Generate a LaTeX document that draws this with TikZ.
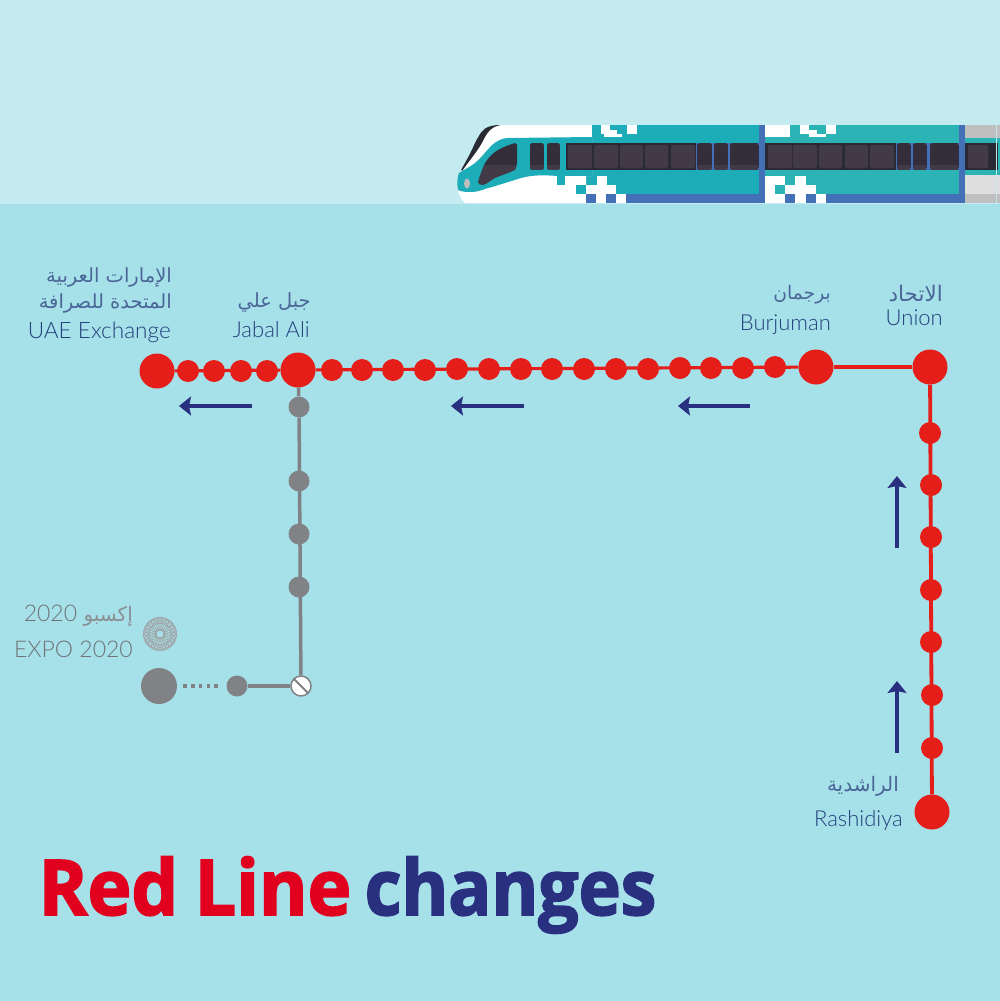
\documentclass[tikz,border=0pt]{standalone}
\usepackage{fontspec}
\setmainfont{Lato Light}
\newfontfamily\arabicfont[Script=Arabic]{DejaVu Sans}
\newfontfamily\titlefont[FakeBold=2.2,FakeStretch=0.94,WordSpace=0.85]{Open Sans Bold}
\TeXXeTstate=1
\usetikzlibrary{arrows.meta}
\definecolor{skyc}{HTML}{C3EBF0}
\definecolor{bgc}{HTML}{A6E1EA}
\definecolor{redc}{HTML}{E61E19}
\definecolor{grayc}{HTML}{808285}
\definecolor{graytxt}{HTML}{6F7376}
\definecolor{grayar}{HTML}{8A8F92}
\definecolor{navy}{HTML}{2A3080}
\definecolor{titlered}{HTML}{E2001F}
\definecolor{labc}{HTML}{233F7C}
\definecolor{labar}{HTML}{4A6697}
\definecolor{tealA}{HTML}{1CADB8}
\definecolor{tealB}{HTML}{2BB3B6}
\definecolor{blueb}{HTML}{4470B8}
\definecolor{bandc}{HTML}{2A2A35}
\definecolor{panec}{HTML}{433A47}
\definecolor{doorc}{HTML}{332E3A}
\tikzset{
  bigstop/.style={circle,fill=redc,draw=none,minimum size=35pt,inner sep=0pt},
  stopr/.style={circle,fill=redc,draw=none,minimum size=22pt,inner sep=0pt},
  stopg/.style={circle,fill=grayc,draw=none,minimum size=21pt,inner sep=0pt},
  biggray/.style={circle,fill=grayc,draw=none,minimum size=36pt,inner sep=0pt},
  xchg/.style={circle,fill=white,draw=grayc,line width=1.5pt,minimum size=20pt,inner sep=0pt},
  redline/.style={draw=redc,line width=3.2pt},
  grayline/.style={draw=grayc,line width=3.5pt},
  dirarrow/.style={draw=navy,line width=3.6pt,-{Stealth[length=12pt,width=19pt,inset=2pt]}},
  lab/.style={text=labc,anchor=base east,font=\fontsize{22}{24}\selectfont,inner sep=0pt},
  alab/.style={text=labar,anchor=base east,font=\arabicfont\fontsize{19.5}{22}\selectfont,inner sep=0pt},
  glab/.style={lab,text=graytxt,font=\fontsize{23}{24}\selectfont},
  galab/.style={alab,text=grayar,font=\arabicfont\fontsize{20}{24}\selectfont},
  title/.style={anchor=base west,inner sep=0pt,font=\titlefont\fontsize{77}{80}\selectfont},
  pane/.style={fill=panec,rounded corners=2pt},
}
\newcommand{\traindoor}[2]{%
  \begin{scope}
    \clip[rounded corners=2.5pt] (#1,143) rectangle (#2,170);
    \fill[doorc] (#1,143) rectangle (#2,170);
    \fill[panec] (#1,165) rectangle (#2,170);
  \end{scope}}
\begin{document}
\begin{tikzpicture}[x=1pt,y=-1pt]
\useasboundingbox (0,0) rectangle (1000,1001);
\fill[bgc] (0,0) rectangle (1000,1001);
\fill[skyc] (0,0) rectangle (1000,204);
% --- train ---
\begin{scope}
\clip (0,0) rectangle (1000,203.5);
% car bodies
\fill[tealA] (586,125) rectangle (760,203);
\fill[tealB] (765,125) rectangle (960,203);
% dark roof edge
\fill[bandc] (461,170) .. controls (468,158) and (472,150) .. (475,143) .. controls (480,133) and (484,128) .. (488,127) .. controls (493,125) and (498,125) .. (503,125) -- (503,140) -- (470,172) -- cycle;
% white body
\fill[white] (463,170) .. controls (470,160) and (477,152) .. (482,143) .. controls (486,135) and (489,130) .. (493,128) .. controls (496,126) and (500,125) .. (503,125) -- (592,125) -- (592,137) -- (592,176) -- (586,176) -- (586,203) -- (465,203) .. controls (461,199) and (459,196) .. (458,190) -- cycle;
% nose teal
\fill[tealA] (459,173) .. controls (465,169) and (470,167) .. (475,163) .. controls (482,157) and (487,150) .. (492,145) .. controls (497,141) and (502,138) .. (508,138) -- (592,137) -- (592,176) -- (557,176) .. controls (545,175) and (535,175) .. (525,177) .. controls (517,179) and (512,181) .. (505,183) .. controls (498,185) and (493,187) .. (488,188) .. controls (482,190) and (477,192) .. (472,192) .. controls (467,192) and (462,192) .. (458,190) .. controls (457,184) and (457,178) .. (459,173) -- cycle;
% windscreen
\begin{scope}
\clip (478,182) .. controls (480,175) and (482,169) .. (485,163) .. controls (489,157) and (493,153) .. (498,150) .. controls (503,147) and (509,145) .. (515,143) -- (517,145) -- (517,163) .. controls (517,166) and (516,168) .. (515,170) .. controls (509,173) and (502,175) .. (495,178) .. controls (491,180) and (487,184) .. (483,185) .. controls (480,185) and (478,184) .. (478,182) -- cycle;
\fill[doorc] (475,140) rectangle (520,165);
\fill[panec] (475,165) rectangle (520,190);
\end{scope}
\fill[black!25] (467,183.5) ellipse [x radius=3,y radius=5];
% pixel blocks car 1
\fill[tealA] (592,125) rectangle (601,137);
\fill[white] (601,125) rectangle (610,134);
\fill[white] (604,134) rectangle (622,137);
\fill[white] (610,130) rectangle (617,134);
\fill[tealA] (617,125) rectangle (627,134);
\fill[white] (627,125) rectangle (637,134);
\fill[tealA] (557,176) rectangle (565,185);
\fill[white] (565,176) rectangle (586,185);
\fill[white] (597,176) rectangle (607,185);
\fill[tealA] (576,185) rectangle (586,194);
\fill[white] (586,185) rectangle (616,194);
\fill[white] (557,185) rectangle (576,194);
\fill[white] (557,194) rectangle (586,203);
\fill[blueb] (586,194) rectangle (596,203);
\fill[white] (596,194) rectangle (606,203);
\fill[blueb] (606,194) rectangle (616,203);
\fill[white] (616,194) rectangle (626,203);
\fill[blueb] (626,194) rectangle (765,203);
% windows car 1
\traindoor{530}{544}
\traindoor{547}{560}
\fill[bandc] (566,143) rectangle (696,170);
\foreach \a/\b in {568/592,594/618,620/643,645/668,671/695}{\fill[pane] (\a,145) rectangle (\b,168);}
\fill[blueb] (695.5,143) rectangle (760,170);
\traindoor{697}{712}
\traindoor{714}{728}
\traindoor{730}{759}
% separator
\fill[blueb] (759,125) rectangle (765,203);
% car 2 pixels
\fill[white] (765,125) rectangle (790,137);
\fill[tealB] (790,125) rectangle (800,134);
\fill[white] (800,125) rectangle (809,134);
\fill[white] (809,130) rectangle (817,134);
\fill[white] (809,134) rectangle (826,137);
\fill[tealB] (817,125) rectangle (826,134);
\fill[white] (826,125) rectangle (836,134);
\fill[white] (765,176) rectangle (785,185);
\fill[white] (795,176) rectangle (806,185);
\fill[white] (765,185) rectangle (775,194);
\fill[tealB] (775,185) rectangle (785,194);
\fill[white] (785,185) rectangle (816,194);
\fill[white] (765,194) rectangle (785,203);
\fill[blueb] (785,194) rectangle (795,203);
\fill[white] (795,194) rectangle (806,203);
\fill[blueb] (806,194) rectangle (816,203);
\fill[white] (816,194) rectangle (826,203);
\fill[blueb] (826,194) rectangle (965,203);
% windows car 2
\fill[bandc] (765,143) rectangle (896,170);
\foreach \a/\b in {768/792,793/817,819/842,845/868,870/894}{\fill[pane] (\a,145) rectangle (\b,168);}
\fill[blueb] (895.5,143) rectangle (960,170);
\traindoor{897}{911}
\traindoor{913}{927}
\traindoor{930}{959}
\fill[blueb] (959,125) rectangle (965,203);
% car 3
\fill[black!25] (965,125) rectangle (1000,138);
\fill[tealB] (965,138) rectangle (1000,175);
\fill[black!13] (965,175) rectangle (1000,194);
\fill[black!25] (965,194) rectangle (1000,203);
\fill[bandc] (965,143) rectangle (998,170);
\fill[pane] (968,145) rectangle (988,168);
\fill[white!70!tealB] (996,125) rectangle (997,203);
\end{scope}
% --- expo emblem ---
\foreach \t in {0,15,...,345}{
  \draw[grayc!75,line width=.4pt] (160,634) ++(\t:10) circle (6.5);
  \draw[grayc!75,line width=.4pt] (160,634) ++(\t+7.5:13.5) circle (3.5);
}
\fill[bgc] (160,634) circle (3.2);
% --- stops ---
\node[bigstop] (uae) at (157,371) {};
\node[stopr] (r1) at (188,371) {};
\node[stopr] (r2) at (214,371) {};
\node[stopr] (r3) at (241,371) {};
\node[stopr] (r4) at (267,371) {};
\node[bigstop] (jabal) at (298,370) {};
\node[stopr] (r5) at (332,370) {};
\node[stopr] (r6) at (362,370) {};
\node[stopr] (r7) at (393,370) {};
\node[stopr] (r8) at (425,370) {};
\node[stopr] (r9) at (457,369) {};
\node[stopr] (r10) at (489,369) {};
\node[stopr] (r11) at (521,369) {};
\node[stopr] (r12) at (552,369) {};
\node[stopr] (r13) at (584,369) {};
\node[stopr] (r14) at (616,369) {};
\node[stopr] (r15) at (648,369) {};
\node[stopr] (r16) at (680,368) {};
\node[stopr] (r17) at (711,368) {};
\node[stopr] (r18) at (743,368) {};
\node[stopr] (r19) at (775,367) {};
\node[bigstop] (burj) at (816,367) {};
\node[bigstop] (union) at (930,367) {};
\node[stopr] (s1) at (930,433) {};
\node[stopr] (s2) at (931,485) {};
\node[stopr] (s3) at (931,537) {};
\node[stopr] (s4) at (931,590) {};
\node[stopr] (s5) at (931,642) {};
\node[stopr] (s6) at (932,695) {};
\node[stopr] (s7) at (932,748) {};
\node[bigstop] (rash) at (932,812) {};
% gray branch
\node[stopg] (g1) at (299,407) {};
\node[stopg] (g2) at (299,481) {};
\node[stopg] (g3) at (299,534) {};
\node[stopg] (g4) at (299,587) {};
\node[xchg] (hx) at (301,686) {};
\node[stopg] (g5) at (237,686) {};
\node[biggray] (expo) at (159,686) {};
% --- connectors ---
\draw[redline] (uae) -- (jabal);
\draw[redline] (jabal) -- (burj);
\draw[redline] (burj) -- (union);
\draw[redline,line width=3.8pt] (union) -- (rash);
\draw[grayline] (jabal) -- (g1);
\draw[grayline] (g1) -- (hx);
\draw[grayline] (hx) -- (g5);
\draw[grayc,line width=3.5pt,dash pattern=on 3.6pt off 4.2pt] ([xshift=6pt]expo.east) -- ([xshift=-7pt]g5.west);
\draw[grayc,line width=2pt] (hx.north west) -- (hx.south east);
% --- direction arrows ---
\coordinate (a1s) at (252,406); \coordinate (a1e) at (179,406);
\coordinate (a2s) at (524,406); \coordinate (a2e) at (451,406);
\coordinate (a3s) at (750,406); \coordinate (a3e) at (678,406);
\coordinate (a4s) at (897,548); \coordinate (a4e) at (897,476);
\coordinate (a5s) at (897,753); \coordinate (a5e) at (897,681);
\draw[dirarrow] (a1s) -- (a1e);
\draw[dirarrow] (a2s) -- (a2e);
\draw[dirarrow] (a3s) -- (a3e);
\draw[dirarrow] (a4s) -- (a4e);
\draw[dirarrow] (a5s) -- (a5e);
% --- labels ---
\node[alab] (t1) at (172,282) {\beginR الإمارات العربية\endR};
\node[alab] (t2) at (172,308) {\beginR المتحدة للصرافة\endR};
\node[lab,font=\fontsize{22.6}{24}\selectfont] (t3) at (171,338) {UAE Exchange};
\node[alab] (t4) at (311,307) {\beginR جبل  علي\endR};
\node[lab] (t5) at (310,337) {Jabal Ali};
\node[alab,font=\arabicfont\fontsize{18.7}{22}\selectfont] (t6) at (831,299) {\beginR برجمان\endR};
\node[lab] (t7) at (831,330) {Burjuman};
\node[alab,font=\arabicfont\fontsize{21.5}{22}\selectfont] (t8) at (943,301) {\beginR الاتحاد\endR};
\node[lab] (t9) at (943,325) {Union};
\node[alab,font=\arabicfont\fontsize{20}{22}\selectfont] (t10) at (899,791) {\beginR الراشدية\endR};
\node[lab] (t11) at (903,826) {Rashidiya};
\node[galab] (t12) at (133,621) {\beginR إكسبو \beginL{\normalfont\color{graytxt}\fontsize{23}{24}\selectfont 2020}\endL\endR};
\node[glab] (t13) at (133,657) {EXPO 2020};
\node[title,text=titlered] (t14) at (38.5,915) {\scalebox{1.023}[1]{Red Line}};
\node[title,text=navy] (t15) at (364.5,915) {\scalebox{.986}[1]{changes}};
\end{tikzpicture}
\end{document}
